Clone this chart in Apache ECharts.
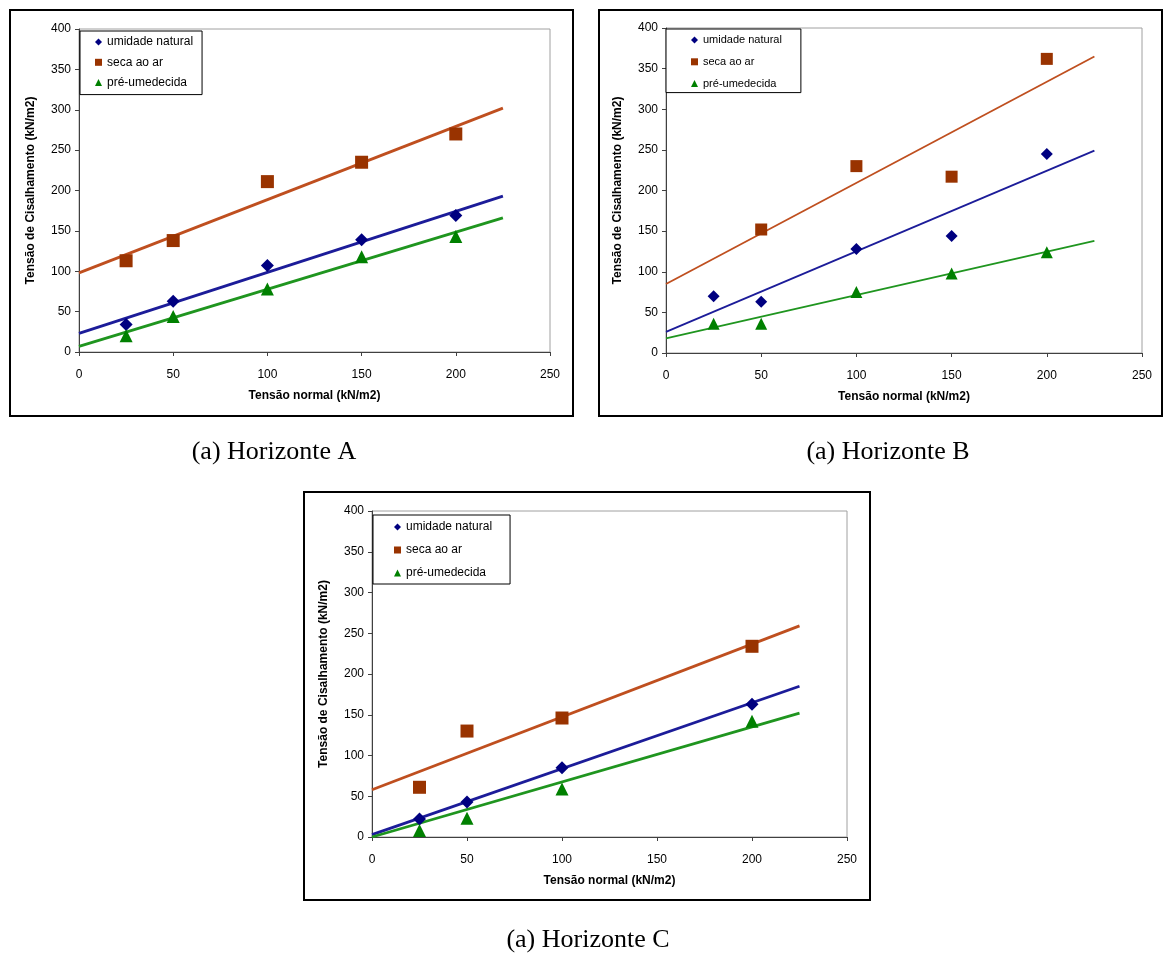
<!DOCTYPE html>
<html>
<head>
<meta charset="utf-8">
<script src="https://cdn.jsdelivr.net/npm/echarts@6/dist/echarts.min.js"></script>
<style>
html,body{margin:0;padding:0;background:#fff;}
#c{width:1165px;height:953px;}
</style>
</head>
<body>
<div id="c"></div>
<script>
// ---- data ----
const seriesNames = ['umidade natural', 'seca ao ar', 'pré-umedecida'];
const captions = ['(a) Horizonte A', '(a) Horizonte B', '(a) Horizonte C'];
const xTitle = 'Tensão normal (kN/m2)';
const yTitle = 'Tensão de Cisalhamento (kN/m2)';
const trendX = [0, 225];

// Horizonte A
const xA = [25, 50, 100, 150, 200];
const umidA = [34, 63, 107, 139, 169];
const secaA = [113, 138, 211, 235, 270];
const preA = [20, 44, 78, 118, 143];
const trendUmidA = [23, 193];
const trendSecaA = [98, 302];
const trendPreA = [7, 166];

// Horizonte B
const xB = [25, 50, 100, 150, 200];
const umidB = [70, 63, 128, 144, 245];
const xSecaB = [50, 100, 150, 200];
const secaB = [152, 230, 217, 362];
const preB = [36, 36, 75, 98, 124];
const trendUmidB = [26, 249];
const trendSecaB = [85, 365];
const trendPreB = [18, 138];

// Horizonte C
const xC = [25, 50, 100, 200];
const umidC = [22, 43, 85, 163];
const secaC = [61, 130, 146, 234];
const preC = [8, 23, 59, 142];
const trendUmidC = [3, 185];
const trendSecaC = [58, 259];
const trendPreC = [0, 152];

// ---- styles ----
const FONT = 'Liberation Sans, Arial, sans-serif';
const markerColors = ['#000080', '#993300', '#008000'];
const lineColors = ['#1c1c99', '#bf4f1f', '#1f951f'];
const symbols = ['diamond', 'rect', 'triangle'];

const panels = [
  { grid: {left: 79, top: 29, width: 471, height: 323},
    pts: [[xA, umidA], [xA, secaA], [xA, preA]],
    trends: [trendUmidA, trendSecaA, trendPreA],
    sizes: [13, 13, 13], lw: 2.8,
    legend: {left: 80, top: 31, padding: [4, 9, 5, 15], gap: 6.3, fs: 12},
    box: [10, 10, 563, 406], cap: [274, 452] },
  { grid: {left: 666, top: 28, width: 476, height: 325},
    pts: [[xB, umidB], [xSecaB, secaB], [xB, preB]],
    trends: [trendUmidB, trendSecaB, trendPreB],
    sizes: [12, 12, 12], lw: 1.8,
    legend: {left: 666, top: 29, padding: [4, 19, 2, 25], gap: 7.8, fs: 11},
    box: [599, 10, 563, 406], cap: [888, 452] },
  { grid: {left: 372, top: 511, width: 475, height: 326},
    pts: [[xC, umidC], [xC, secaC], [xC, preC]],
    trends: [trendUmidC, trendSecaC, trendPreC],
    sizes: [13, 13, 13], lw: 2.8,
    legend: {left: 373, top: 515, padding: [5, 18, 4, 21], gap: 9, fs: 12},
    box: [304, 492, 566, 408], cap: [588, 940] }
];

const grids = [], xAxes = [], yAxes = [], series = [], legends = [], graphics = [];

panels.forEach((p, i) => {
  grids.push(Object.assign({show: true, borderColor: '#a0a0a0', borderWidth: 1, backgroundColor: '#fff'}, p.grid));
  xAxes.push({
    type: 'value', gridIndex: i, min: 0, max: 250, interval: 50,
    name: xTitle, nameLocation: 'middle', nameGap: 38,
    nameTextStyle: {fontFamily: FONT, fontSize: 12, fontWeight: 'bold', color: '#000'},
    axisLine: {show: true, onZero: false, lineStyle: {color: '#404040', width: 1}},
    axisTick: {show: true, inside: false, length: 4, lineStyle: {color: '#404040'}},
    axisLabel: {fontFamily: FONT, fontSize: 12, color: '#000', margin: 17},
    splitLine: {show: false}
  });
  yAxes.push({
    type: 'value', gridIndex: i, min: 0, max: 400, interval: 50,
    name: yTitle, nameLocation: 'middle', nameGap: 42, nameRotate: 90,
    nameTextStyle: {fontFamily: FONT, fontSize: 12, fontWeight: 'bold', color: '#000'},
    axisLine: {show: true, onZero: false, lineStyle: {color: '#404040', width: 1}},
    axisTick: {show: true, inside: false, length: 4, lineStyle: {color: '#404040'}},
    axisLabel: {fontFamily: FONT, fontSize: 12, color: '#000', margin: 8},
    splitLine: {show: false}
  });
  for (let s = 0; s < 3; s++) {
    series.push({
      type: 'line', name: 'trend ' + seriesNames[s], xAxisIndex: i, yAxisIndex: i,
      data: trendX.map((x, k) => [x, p.trends[s][k]]),
      showSymbol: false, symbol: 'none', silent: true, z: 2,
      lineStyle: {color: lineColors[s], width: p.lw},
      animation: false
    });
  }
  for (let s = 0; s < 3; s++) {
    const [xs, ys] = p.pts[s];
    series.push({
      type: 'scatter', name: seriesNames[s], xAxisIndex: i, yAxisIndex: i,
      data: xs.map((x, k) => [x, ys[k]]),
      symbol: symbols[s], symbolSize: p.sizes[s], z: 3,
      itemStyle: {color: markerColors[s], opacity: 1},
      animation: false
    });
  }
  legends.push({
    data: seriesNames.map((n, s) => ({name: n, icon: symbols[s]})),
    orient: 'vertical', left: p.legend.left, top: p.legend.top,
    padding: p.legend.padding, itemGap: p.legend.gap,
    itemWidth: 7, itemHeight: 7,
    borderColor: '#000', borderWidth: 1, backgroundColor: '#fff',
    selectedMode: false,
    textStyle: {fontFamily: FONT, fontSize: p.legend.fs, color: '#000', lineHeight: 14}
  });
  graphics.push({
    type: 'rect', shape: {x: p.box[0], y: p.box[1], width: p.box[2], height: p.box[3]},
    style: {fill: null, stroke: '#000', lineWidth: 2}, z: 0, silent: true
  });
  graphics.push({
    type: 'text', x: p.cap[0], y: p.cap[1],
    style: {text: captions[i], font: '26px "Liberation Serif", "Times New Roman", serif',
            fill: '#000', textAlign: 'center', textVerticalAlign: 'middle'},
    silent: true
  });
});

const chart = echarts.init(document.getElementById('c'), null, {renderer: 'canvas'});
chart.setOption({
  backgroundColor: '#fff',
  animation: false,
  grid: grids, xAxis: xAxes, yAxis: yAxes,
  legend: legends, series: series, graphic: graphics
});
</script>
</body>
</html>
